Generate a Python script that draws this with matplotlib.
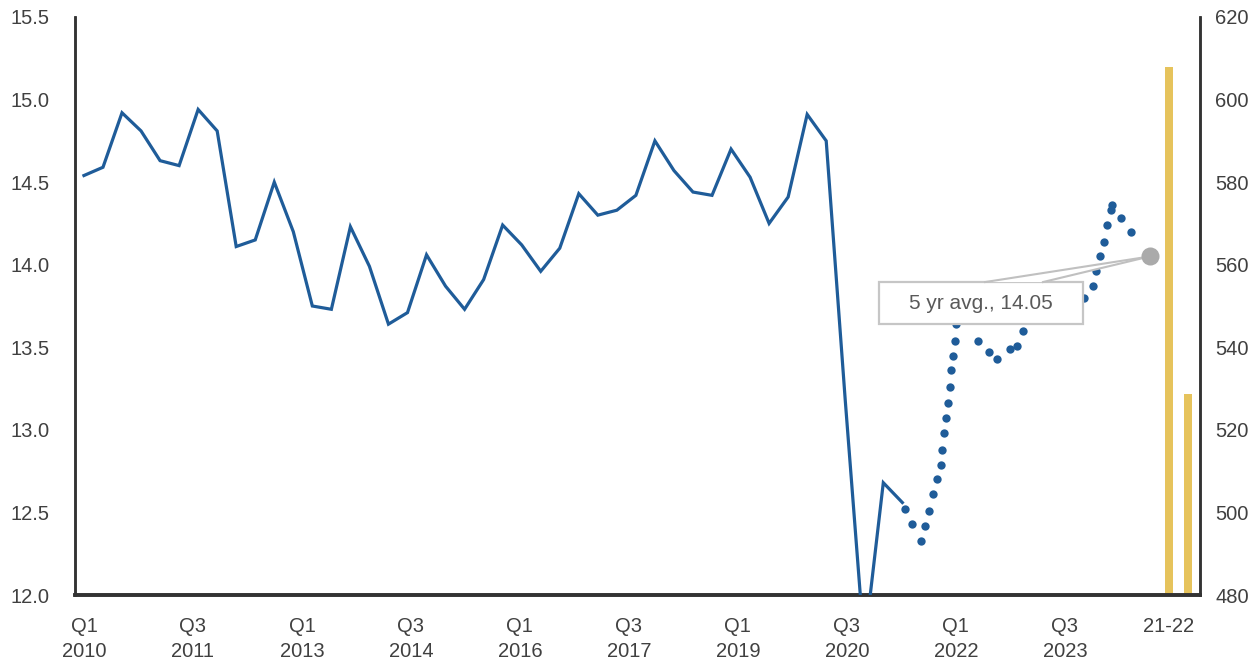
import matplotlib
matplotlib.use("Agg")
import matplotlib.pyplot as plt
from matplotlib.patches import Rectangle, Polygon

plt.rcParams['font.family'] = ['Liberation Sans', 'DejaVu Sans']

# ---- data ----
# quarterly series Q1 2010 .. Q4 2020 (solid line), x = quarter index
solid_values = [14.54, 14.59, 14.92, 14.81, 14.63, 14.60, 14.94, 14.81,
                14.11, 14.15, 14.50, 14.20, 13.75, 13.73, 14.23, 13.99,
                13.64, 13.71, 14.06, 13.87, 13.73, 13.91, 14.24, 14.12,
                13.96, 14.10, 14.43, 14.30, 14.33, 14.42, 14.75, 14.57,
                14.44, 14.42, 14.70, 14.53, 14.25, 14.41, 14.91, 14.75,
                13.18, 11.69, 12.68, 12.56]

# recent dotted series (x in quarter units since Q1 2010)
dot_x = [43.14, 43.53, 44.00, 44.21, 44.40, 44.61, 44.81, 45.02, 45.10,
         45.19, 45.28, 45.39, 45.48, 45.56, 45.66, 45.75, 45.82, 46.99,
         47.56, 48.00, 48.68, 49.01, 49.33, 52.55, 53.00, 53.20, 53.39,
         53.58, 53.77, 53.95, 54.00, 54.51, 55.00]
dot_y = [12.52, 12.43, 12.33, 12.42, 12.51, 12.61, 12.70, 12.79, 12.88,
         12.98, 13.07, 13.16, 13.26, 13.36, 13.45, 13.54, 13.64, 13.54,
         13.47, 13.43, 13.49, 13.51, 13.60, 13.80, 13.87, 13.96, 14.05,
         14.14, 14.24, 14.33, 14.36, 14.28, 14.20]

avg_x = 56.0
avg_value = 14.05
avg_label = "5 yr avg., 14.05"

bar_x = [57.0, 58.0]
bar_values = [607.8, 528.8]

tick_labels = ["Q1\n2010", "Q3\n2011", "Q1\n2013", "Q3\n2014", "Q1\n2016",
               "Q3\n2017", "Q1\n2019", "Q3\n2020", "Q1\n2022", "Q3\n2023",
               "21-22"]

left_ticks = [12.0, 12.5, 13.0, 13.5, 14.0, 14.5, 15.0, 15.5]
right_ticks = [480, 500, 520, 540, 560, 580, 600, 620]

# ---- style ----
BLUE = '#1f5c99'
GOLD = '#e6c35c'
GREY_TXT = '#404040'
SPINE = '#333333'
TICK_STEP = 5.727

fig = plt.figure(figsize=(12.5, 6.66), dpi=100)
ax = fig.add_axes([0.06, 0.1066, 0.90, 0.8679])
ax2 = ax.twinx()

ax.plot(range(len(solid_values)), solid_values, color=BLUE, lw=2.3,
        solid_joinstyle='miter', zorder=3)
ax.plot(dot_x, dot_y, linestyle='none', marker='o', ms=6.0, color=BLUE,
        mec='none', zorder=4)

ax2.bar(bar_x, bar_values, width=0.42, color=GOLD, zorder=2)

ax.set_xlim(-0.47, 58.64)
ax.set_ylim(12.0, 15.5)
ax2.set_ylim(480, 620)

tick_pos = [i * TICK_STEP for i in range(len(tick_labels) - 1)] + [bar_x[0]]
ax.set_xticks(tick_pos)
ax.set_xticklabels(tick_labels, linespacing=1.38)
ax.set_yticks(left_ticks)
ax.set_yticklabels([f"{v:.1f}" for v in left_ticks])
ax2.set_yticks(right_ticks)
ax2.set_yticklabels([str(v) for v in right_ticks])

ax.tick_params(axis='x', length=0, pad=16, labelsize=14.5, colors=GREY_TXT)
ax.tick_params(axis='y', length=0, pad=18, labelsize=14.5, colors=GREY_TXT)
ax2.tick_params(axis='y', length=0, pad=11, labelsize=14.5, colors=GREY_TXT)

for a in (ax, ax2):
    a.spines['top'].set_visible(False)
    a.spines['left'].set_color(SPINE)
    a.spines['right'].set_color(SPINE)
    a.spines['bottom'].set_color(SPINE)
    a.spines['left'].set_linewidth(1.8)
    a.spines['right'].set_linewidth(1.8)
    a.spines['bottom'].set_linewidth(2.6)

# ---- annotation: 5 yr average callout ----
ax2.set_zorder(ax.get_zorder() - 1)
ax.patch.set_visible(False)

box_x0, box_x1 = 41.78, 52.50
box_y0, box_y1 = 13.64, 13.895
ax.add_patch(Rectangle((box_x0, box_y0), box_x1 - box_x0, box_y1 - box_y0,
                       facecolor='white', edgecolor='#c6c6c6', lw=1.6, zorder=6))
ax.text((box_x0 + box_x1) / 2, (box_y0 + box_y1) / 2, avg_label,
        ha='center', va='center', fontsize=15, color='#595959', zorder=8)

wA = 47.35
wB = 50.39
ax.add_patch(Polygon([(wA, box_y1), (avg_x, avg_value), (wB, box_y1)],
                     closed=True, facecolor='white', edgecolor='none', zorder=7))
ax.plot([wA, avg_x], [box_y1, avg_value], color='#c0c0c0', lw=1.5, zorder=7)
ax.plot([wB, avg_x], [box_y1, avg_value], color='#c0c0c0', lw=1.5, zorder=7)
ax.plot([avg_x], [avg_value], marker='o', ms=13, color='#aaaaaa', mec='none', zorder=9)

fig.savefig('out.png', dpi=100)
